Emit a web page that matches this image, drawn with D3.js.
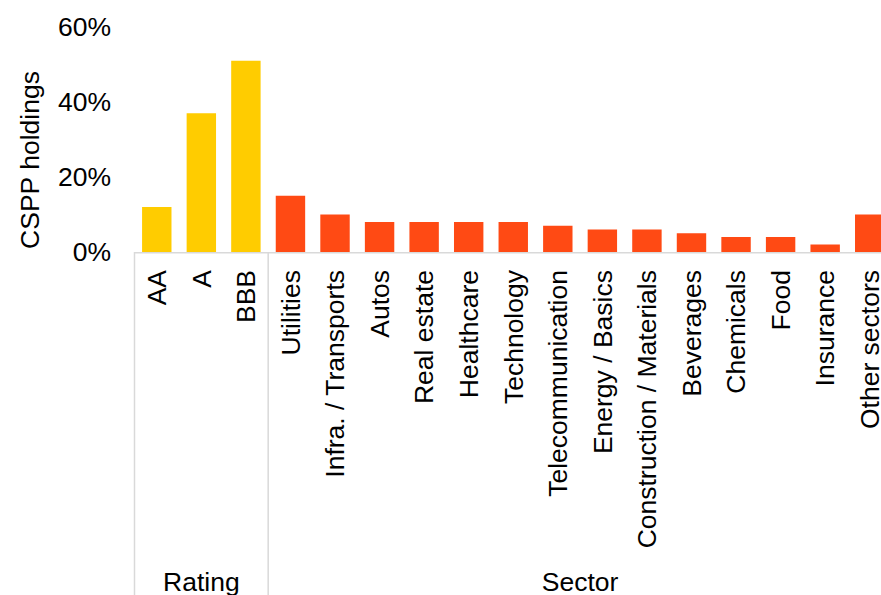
<!DOCTYPE html>
<html>
<head>
<meta charset="utf-8">
<script src="https://cdn.jsdelivr.net/npm/d3@7"></script>
<style>
  body { margin: 0; background: #fff; }
  text { font-family: "Liberation Sans", Arial, sans-serif; fill: #000; }
</style>
</head>
<body>
<svg width="881" height="595"></svg>
<script>
// data
var ratings = ["AA", "A", "BBB"];
var ratingValues = [0.12, 0.37, 0.51];
var sectors = ["Utilities", "Infra. / Transports", "Autos", "Real estate", "Healthcare",
  "Technology", "Telecommunication", "Energy / Basics", "Construction / Materials",
  "Beverages", "Chemicals", "Food", "Insurance", "Other sectors"];
var sectorValues = [0.15, 0.10, 0.08, 0.08, 0.08, 0.08, 0.07, 0.06, 0.06, 0.05, 0.04, 0.04, 0.02, 0.10];
var yTicks = [0, 0.2, 0.4, 0.6];
var groups = [{name: "Rating", items: ratings}, {name: "Sector", items: sectors}];

var rows = ratings.map(function(d, i) { return {cat: d, value: ratingValues[i], group: "Rating"}; })
  .concat(sectors.map(function(d, i) { return {cat: d, value: sectorValues[i], group: "Sector"}; }));

var svg = d3.select("svg"),
    width = +svg.attr("width"),
    height = +svg.attr("height");

var x = d3.scaleBand()
    .domain(rows.map(function(d) { return d.cat; }))
    .range([134.5, 892])
    .paddingInner(0.34)
    .paddingOuter(0.17);

var y = d3.scaleLinear().domain([0, 0.6]).range([252, 27]);

var color = {Rating: "#FFCC00", Sector: "#FF4A14"};
var fs = 26.5;

// bars
svg.append("g").selectAll("rect")
  .data(rows)
  .enter().append("rect")
    .attr("x", function(d) { return x(d.cat); })
    .attr("width", x.bandwidth())
    .attr("y", function(d) { return y(d.value); })
    .attr("height", function(d) { return y(0) - y(d.value); })
    .attr("fill", function(d) { return color[d.group]; });

// y axis labels
svg.append("g").selectAll("text")
  .data(yTicks)
  .enter().append("text")
    .attr("x", 111)
    .attr("y", function(d) { return y(d); })
    .attr("dy", "0.35em")
    .attr("text-anchor", "end")
    .style("font-size", fs + "px")
    .text(d3.format(".0%"));

svg.append("text")
    .attr("transform", "translate(30,160) rotate(-90)")
    .attr("dy", "0.35em")
    .attr("text-anchor", "middle")
    .style("font-size", fs + "px")
    .text("CSPP holdings");

// baseline and group separators
var grey = "#d9d9d9";
svg.append("line")
    .attr("x1", x.range()[0]).attr("x2", width)
    .attr("y1", y(0) + 0.75).attr("y2", y(0) + 0.75)
    .attr("stroke", grey).attr("stroke-width", 1.5);

groups.forEach(function(g) {
  var first = g.items[0], last = g.items[g.items.length - 1];
  var x0 = x(first) - x.step() * x.paddingOuter();
  var x1 = x(last) + x.bandwidth() + x.step() * x.paddingOuter();
  svg.append("line")
      .attr("x1", x0).attr("x2", x0)
      .attr("y1", y(0)).attr("y2", height)
      .attr("stroke", grey).attr("stroke-width", 1.5);
  svg.append("text")
      .attr("x", (x0 + x1) / 2)
      .attr("y", 591)
      .attr("text-anchor", "middle")
      .style("font-size", fs + "px")
      .text(g.name);
});

// category labels
svg.append("g").selectAll("text")
  .data(rows)
  .enter().append("text")
    .attr("transform", function(d) {
      return "translate(" + (x(d.cat) + x.bandwidth() / 2) + ",270) rotate(-90)";
    })
    .attr("dy", "0.35em")
    .attr("text-anchor", "end")
    .style("font-size", fs + "px")
    .text(function(d) { return d.cat; });
</script>
</body>
</html>
